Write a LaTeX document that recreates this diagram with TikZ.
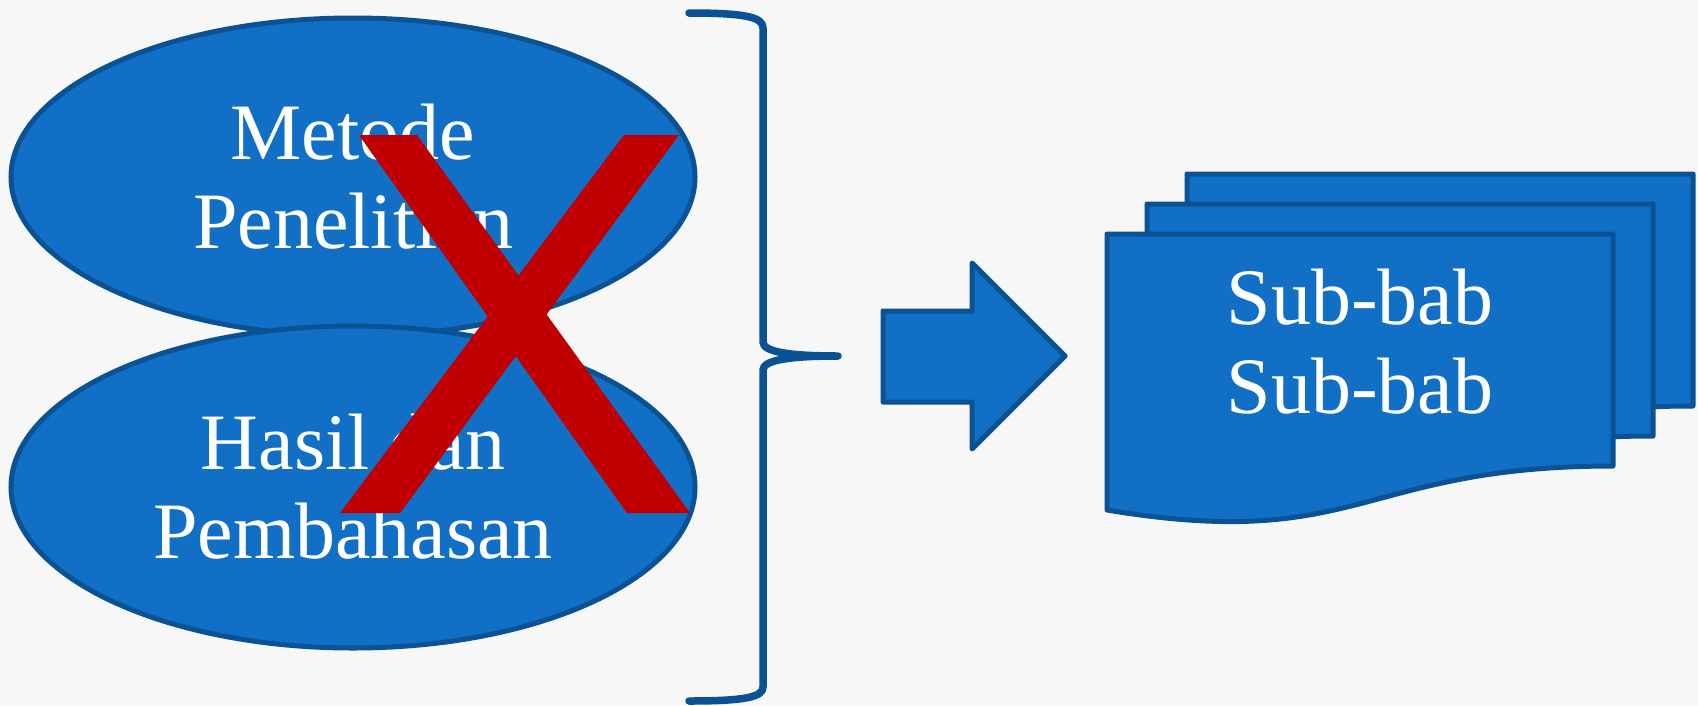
\documentclass[tikz,border=0pt]{standalone}
\usepackage{fontspec}
\setmainfont{Liberation Serif}
\usepackage{tikz}
\usetikzlibrary{shapes.geometric}
\definecolor{cFill}{RGB}{17,112,198}
\definecolor{cLine}{RGB}{11,82,148}
\definecolor{cCross}{RGB}{192,0,0}
\definecolor{cBg}{RGB}{247,247,247}

\begin{document}
\begin{tikzpicture}[x=1pt, y=-1pt,
      oval/.style={ellipse, draw=cLine, fill=cFill, line width=5pt,
                   minimum width=684pt, minimum height=318pt, inner sep=0pt,
                   text=white, align=center, font=\fontsize{80}{89}\selectfont},
      txt/.style={text=white, align=center, inner sep=0pt,
                  font=\fontsize{80}{89}\selectfont},
      page/.style={draw=cLine, fill=cFill, line width=5pt, line join=round},
      brace/.style={draw=cLine, line width=7.5pt, line cap=round, line join=round}]
    \fill[cBg] (0,0) rectangle (1698,705);
    \useasboundingbox (0,0) rectangle (1698,705);
    \node[oval] (m) at (353,177) {Metode\\Penelitian};
    \node[oval, minimum height=322pt] (h) at (353,487) {Hasil dan\\Pembahasan};
    \fill[cCross] (359,135) -- (417,135) -- (690,513) -- (627,513) -- cycle;
    \fill[cCross] (624,135) -- (679,135) -- (400,513) -- (340,513) -- cycle;
    \draw[brace] (689,13) .. controls (745,13) and (763,17) .. (763,28) -- (763,342)
      .. controls (763,352) and (790,356) .. (838,356)
      .. controls (790,356) and (763,360) .. (763,370) -- (763,687)
      .. controls (763,697) and (745,701) .. (689,701);
    \draw[page] (883,311) -- (972,311) -- (972,263) -- (1065,356) -- (972,449)
      -- (972,402) -- (883,402) -- cycle;
    \foreach \dx/\dy in {80/-60, 40/-30, 0/0}
      \draw[page, shift={(\dx,\dy)}] (1107,234) -- (1613,234) -- (1613,466)
        .. controls (1360,466) and (1360,552) .. (1107,510) -- cycle;
    \node[txt] (s) at (1360,342) {Sub-bab\\Sub-bab};
  \end{tikzpicture}
\end{document}
